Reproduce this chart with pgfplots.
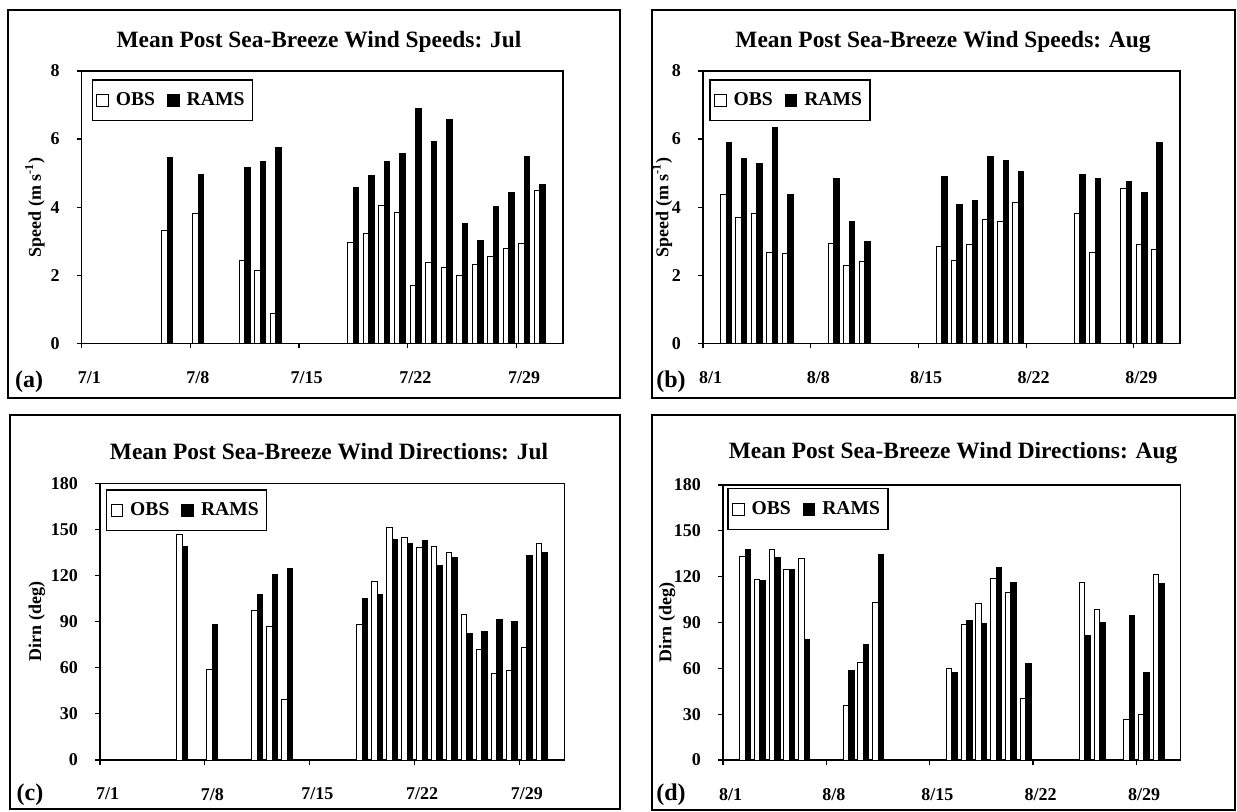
\documentclass[border=0pt]{standalone}
\usepackage{fontspec}
\setmainfont{Liberation Serif}
\usepackage{pgfplots}
\usepackage{pgfplotstable}
\pgfplotsset{compat=1.18}

\pgfplotstableread{
day obs rams
6 3.32 5.45
8 3.81 4.96
11 2.44 5.16
12 2.14 5.33
13 0.88 5.75
18 2.97 4.58
19 3.24 4.92
20 4.05 5.35
21 3.85 5.57
22 1.69 6.89
23 2.36 5.93
24 2.23 6.58
25 1.99 3.52
26 2.31 3.02
27 2.55 4.03
28 2.78 4.42
29 2.94 5.48
30 4.48 4.68
}\julspd

\pgfplotstableread{
day obs rams
2 4.37 5.90
3 3.71 5.43
4 3.80 5.29
5 2.66 6.34
6 2.63 4.37
9 2.93 4.83
10 2.29 3.59
11 2.41 2.99
16 2.83 4.90
17 2.42 4.08
18 2.91 4.19
19 3.63 5.48
20 3.59 5.36
21 4.13 5.04
25 3.80 4.97
26 2.66 4.85
28 4.54 4.76
29 2.91 4.42
30 2.75 5.89
}\augspd

\pgfplotstableread{
day obs rams
6 146.9 139.0
8 58.7 88.0
11 97.2 107.7
12 86.7 120.4
13 39.4 124.8
18 88.2 105.1
19 116.0 107.7
20 151.0 143.2
21 144.5 140.6
22 138.0 142.8
23 138.6 126.6
24 134.9 131.8
25 94.8 82.1
26 71.8 83.9
27 56.5 91.7
28 58.0 89.8
29 73.1 133.1
30 140.6 135.1
}\juldir

\pgfplotstableread{
day obs rams
2 133.5 137.5
3 118.3 117.4
4 137.5 132.7
5 124.4 124.4
6 132.0 79.2
9 35.8 58.3
10 63.9 75.9
11 103.4 134.8
16 59.8 57.6
17 89.0 91.0
18 102.6 89.5
19 118.9 126.1
20 109.8 116.5
21 40.4 63.3
25 116.1 81.8
26 98.6 89.9
28 26.2 94.5
29 30.1 57.4
30 121.5 115.6
}\augdir

\pgfplotsset{
  panel/.style={
    scale only axis,
    anchor=south west,
    xmin=0.5, xmax=31.5,
    ymin=0,
    axis line style={line width=0.6pt},
    every tick/.style={line width=0.6pt, black},
    tick align=outside,
    major tick length=2.5pt,
    xtick={0.5,7.5,14.5,21.5,28.5},
    xtick pos=bottom, ytick pos=left,
    ybar, bar width=2.75pt,
    /pgf/number format/assume math mode=true,
    ticklabel style={font=\fontsize{9}{10}\selectfont\bfseries},
    xticklabel style={xshift=3.8pt, yshift=-8pt},
    yticklabel style={xshift=-5pt},
    ylabel style={font=\fontsize{9}{10}\selectfont\bfseries, anchor=center},
    legend columns=2,
    legend image code/.code={\draw[##1, line width=0.5pt] (0pt,-2.9pt) rectangle (5.8pt,2.9pt);},
    legend style={draw=black, line width=0.6pt, anchor=north west,
      font=\fontsize{9.8}{11}\selectfont\bfseries,
      inner xsep=2pt, inner ysep=4.2pt,
      /tikz/every odd column/.append style={column sep=1.5pt},
      /tikz/every even column/.append style={column sep=4pt}},
  },
  obs/.style={fill=white, draw=black, line width=0.5pt, bar shift=-1.375pt},
  rams/.style={fill=black, draw=black, line width=0.5pt, bar shift=1.375pt},
}

\begin{document}
\begin{tikzpicture}
\path[use as bounding box] (0,0) rectangle (618.5pt,-406pt);

% (a)
\begin{axis}[panel, at={(40.85pt,-171.65pt)}, width=240.65pt, height=136.15pt,
  ymax=8, ytick={0,2,4,6,8},
  xticklabels={7/1,7/8,7/15,7/22,7/29},
  ylabel={Speed (m s\textsuperscript{-1})},
  ylabel style={at={(axis description cs:-0.097,0.5)}},
  legend style={at={(0.0208,0.9695)}}]
\addplot[obs] table[x=day,y=obs] {\julspd};
\addplot[rams] table[x=day,y=rams] {\julspd};
\legend{OBS,RAMS}
\end{axis}

% (b)
\begin{axis}[panel, at={(351.5pt,-171.65pt)}, width=238.5pt, height=136.15pt,
  ymax=8, ytick={0,2,4,6,8},
  xticklabels={8/1,8/8,8/15,8/22,8/29},
  ylabel={Speed (m s\textsuperscript{-1})},
  ylabel style={at={(axis description cs:-0.085,0.5)}},
  legend style={at={(0.0132,0.9695)}}]
\addplot[obs] table[x=day,y=obs] {\augspd};
\addplot[rams] table[x=day,y=rams] {\augspd};
\legend{OBS,RAMS}
\end{axis}

% (c)
\begin{axis}[panel, at={(50pt,-380pt)}, width=232.15pt, height=138.35pt,
  ymax=180, ytick={0,30,60,90,120,150,180},
  xticklabels={7/1,7/8,7/15,7/22,7/29},
  ylabel={Dirn (deg)},
  ylabel style={at={(axis description cs:-0.136,0.5)}},
  legend style={at={(0.0129,0.978)}}]
\addplot[obs] table[x=day,y=obs] {\juldir};
\addplot[rams] table[x=day,y=rams] {\juldir};
\legend{OBS,RAMS}
\end{axis}

% (d)
\begin{axis}[panel, at={(361.5pt,-380pt)}, width=228.85pt, height=137.5pt,
  ymax=180, ytick={0,30,60,90,120,150,180},
  xticklabels={8/1,8/8,8/15,8/22,8/29},
  ylabel={Dirn (deg)},
  ylabel style={at={(axis description cs:-0.122,0.5)}},
  legend style={at={(0.0094,0.988)}}]
\addplot[obs] table[x=day,y=obs] {\augdir};
\addplot[rams] table[x=day,y=rams] {\augdir};
\legend{OBS,RAMS}
\end{axis}

% frames
\draw[line width=1.2pt] (4pt,-5pt) rectangle (310pt,-199pt);
\draw[line width=1.2pt] (326pt,-5pt) rectangle (617.5pt,-199pt);
\draw[line width=1.2pt] (5pt,-207.5pt) rectangle (310pt,-404.5pt);
\draw[line width=1.2pt] (326pt,-207.5pt) rectangle (617.5pt,-405pt);

% titles
\begin{scope}[every node/.style={font=\fontsize{11.7}{13}\selectfont\bfseries}]
\node at (159.5pt,-21pt) {Mean Post Sea-Breeze Wind Speeds: Jul};
\node at (471.5pt,-21pt) {Mean Post Sea-Breeze Wind Speeds: Aug};
\node at (164.5pt,-226pt) {Mean Post Sea-Breeze Wind Directions: Jul};
\node at (476.5pt,-226.5pt) {Mean Post Sea-Breeze Wind Directions: Aug};
\end{scope}

% panel labels
\begin{scope}[every node/.style={font=\fontsize{12}{14}\selectfont\bfseries}]
\node at (14.5pt,-191pt) {(a)};
\node at (335.5pt,-191pt) {(b)};
\node at (15pt,-397.5pt) {(c)};
\node at (335.5pt,-397.5pt) {(d)};
\end{scope}
\end{tikzpicture}
\end{document}
